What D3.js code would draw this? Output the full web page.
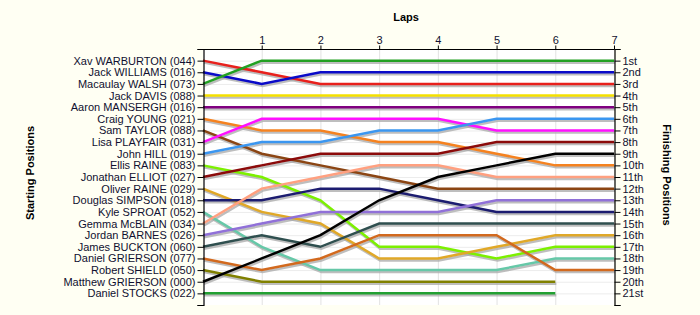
<!DOCTYPE html>
<html><head><meta charset="utf-8">
<script src="https://cdn.jsdelivr.net/npm/d3@7"></script>
<style>body{margin:0;background:#fffff3;}svg{display:block;font-family:"Liberation Sans",Arial,sans-serif;}</style>
</head><body>
<svg id="chart" width="700" height="315"></svg>
<script>
const drivers = ["Xav WARBURTON (044)","Jack WILLIAMS (016)","Macaulay WALSH (073)","Jack DAVIS (088)","Aaron MANSERGH (016)","Craig YOUNG (021)","Sam TAYLOR (088)","Lisa PLAYFAIR (031)","John HILL (019)","Ellis RAINE (083)","Jonathan ELLIOT (027)","Oliver RAINE (029)","Douglas SIMPSON (018)","Kyle SPROAT (052)","Gemma McBLAIN (034)","Jordan BARNES (026)","James BUCKTON (060)","Daniel GRIERSON (077)","Robert SHIELD (050)","Matthew GRIERSON (000)","Daniel STOCKS (022)"];
const colors = ["#e8201c","#0a0ac8","#22a022","#f5e000","#800080","#f58220","#8b4513","#ff10ff","#3a96f0","#7cf000","#8b0a0a","#e0a828","#1c1c70","#66c8a8","#ffa080","#9070d8","#2f4f4f","#d2691e","#808000","#000000","#22a032"];
const laps = [0,1,2,3,4,5,6,7];
const lapLabels = ["1","2","3","4","5","6","7"];
const finishLabels = ["1st","2nd","3rd","4th","5th","6th","7th","8th","9th","10th","11th","12th","13th","14th","15th","16th","17th","18th","19th","20th","21st"];
const positions = [
 [1,2,3,3,3,3,3,3],
 [2,3,2,2,2,2,2,2],
 [3,1,1,1,1,1,1,1],
 [4,4,4,4,4,4,4,4],
 [5,5,5,5,5,5,5,5],
 [6,7,7,8,8,9,10,10],
 [7,9,10,11,12,12,12,12],
 [8,6,6,6,6,7,7,7],
 [9,8,8,7,7,6,6,6],
 [10,11,13,17,17,18,17,17],
 [11,10,9,9,9,8,8,8],
 [12,14,15,18,18,17,16,16],
 [13,13,12,12,13,14,14,14],
 [14,17,19,19,19,19,18,18],
 [15,12,11,10,10,11,11,11],
 [16,15,14,14,14,13,13,13],
 [17,16,17,15,15,15,15,15],
 [18,19,18,16,16,16,19,19],
 [19,20,20,20,20,20,20,null],
 [20,18,16,13,11,10,9,9],
 [21,21,21,21,21,21,21,null]
];
// finishing order colours (by finishing position)
const finishOrder = [];
for (let p = 1; p <= 21; p++) {
  let idx = positions.findIndex(r => { const last = r[7] != null ? r[7] : r[6]; return last === p; });
  finishOrder.push(idx);
}

const svg = d3.select("#chart");
const L = 203, R = 614, T = 49, B = 305;
const x = d3.scaleLinear().domain([0,7]).range([L,R]);
const y = d3.scaleLinear().domain([0,22]).range([T,B]);
const textColor = "#101030";

svg.append("rect").attr("x",L).attr("y",T).attr("width",R-L).attr("height",B-T).attr("fill","#ffffff");

// grid
svg.append("g").selectAll("line").data(d3.range(1,22)).join("line")
  .attr("x1",L).attr("x2",R).attr("y1",d=>y(d)+0.5).attr("y2",d=>y(d)+0.5)
  .attr("stroke","#ececec").attr("stroke-width",1);
svg.append("g").selectAll("line").data(d3.range(1,7)).join("line")
  .attr("x1",d=>x(d)+0.5).attr("x2",d=>x(d)+0.5).attr("y1",T).attr("y2",B)
  .attr("stroke","#e2e2e2").attr("stroke-width",1);

// lines
const line = d3.line().defined(d=>d.p!=null).x(d=>x(d.lap)).y(d=>y(d.p));
const series = positions.map((r,i)=>({i, pts: r.map((p,j)=>({lap:laps[j], p}))}));
const gS = svg.append("g").attr("transform","translate(1,2)");
gS.selectAll("path").data(series).join("path")
  .attr("d",d=>line(d.pts)).attr("fill","none")
  .attr("stroke","#a8a8a8").attr("stroke-opacity",0.75).attr("stroke-width",2.5);
svg.append("g").selectAll("path").data(series).join("path")
  .attr("d",d=>line(d.pts)).attr("fill","none")
  .attr("stroke",d=>colors[d.i]).attr("stroke-width",2.5).attr("stroke-linejoin","miter");

// axes
const yLeft = d3.axisLeft(y).tickValues(d3.range(0,23)).tickSize(6).tickFormat((d)=> (d>=1&&d<=21)?drivers[d-1]:"");
const gl = svg.append("g").attr("transform",`translate(${L+0.5},0)`).call(yLeft);
const yRight = d3.axisRight(y).tickValues(d3.range(0,23)).tickSize(6).tickFormat((d)=> (d>=1&&d<=21)?finishLabels[d-1]:"");
const gr = svg.append("g").attr("transform",`translate(${R+0.5},0)`).call(yRight);
const xTop = d3.axisTop(x).tickValues(d3.range(1,8)).tickSize(4).tickFormat(d=>lapLabels[d-1]);
const gt = svg.append("g").attr("transform",`translate(0,${T+0.5})`).call(xTop);
[gl,gr,gt].forEach(g=>{
  g.select(".domain").attr("stroke","#000").attr("stroke-width",1.2);
  g.selectAll(".tick line").attr("stroke","#000");
  g.selectAll("text").attr("font-size","11px").attr("font-family","'Liberation Sans',Arial,sans-serif").attr("fill",textColor);
});
gl.selectAll("text").attr("x",-8);
gr.selectAll("text").attr("x",8);
gt.select(".domain").attr("d",`M${L},0H${R}`);
gt.selectAll("text").attr("y",-6);
// small colour stubs on left and right of axis (drawn by lines already)

// titles
svg.append("text").attr("x",406).attr("y",21).attr("text-anchor","middle")
  .attr("font-size","11px").attr("font-weight","bold").attr("fill","#000").text("Laps");
svg.append("text").attr("transform","translate(34,173) rotate(-90)").attr("text-anchor","middle")
  .attr("font-size","11px").attr("font-weight","bold").attr("fill","#000").text("Starting Positions");
svg.append("text").attr("transform","translate(663,175) rotate(90)").attr("text-anchor","middle")
  .attr("font-size","11px").attr("font-weight","bold").attr("fill","#000").text("Finishing Positions");
</script>
</body></html>
